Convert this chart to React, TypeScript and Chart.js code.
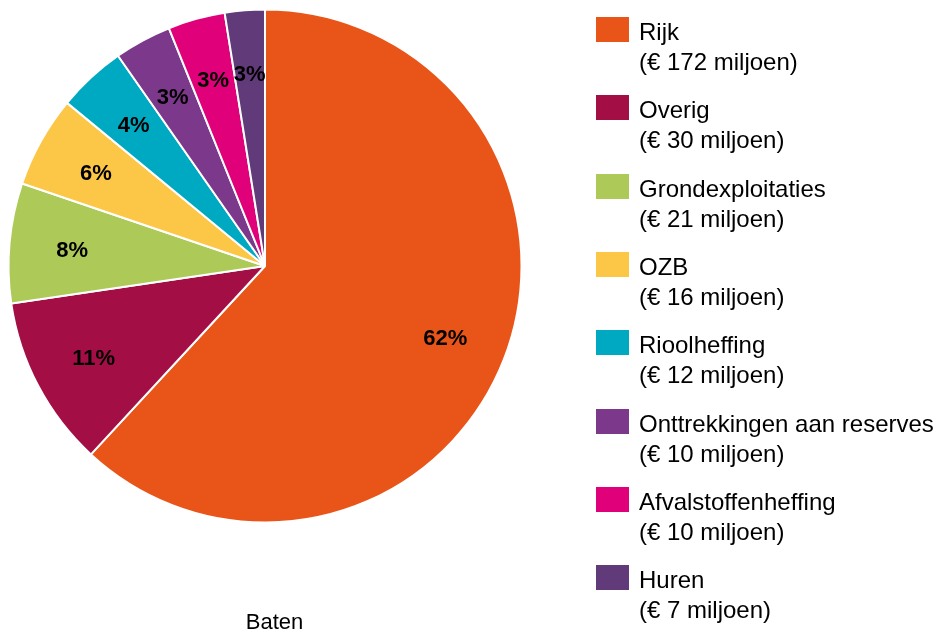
import React, { useEffect, useRef } from "react";
import { Chart, registerables } from "chart.js";

Chart.register(...registerables);

const categories = [
  "Rijk",
  "Overig",
  "Grondexploitaties",
  "OZB",
  "Rioolheffing",
  "Onttrekkingen aan reserves",
  "Afvalstoffenheffing",
  "Huren",
];
const values = [172, 30, 21, 16, 12, 10, 10, 7];
const pctLabels = ["62%", "11%", "8%", "6%", "4%", "3%", "3%", "3%"];
const colors = [
  "#E95519",
  "#A30E45",
  "#ADCA59",
  "#FCC647",
  "#00A9C2",
  "#7C398B",
  "#E0007A",
  "#613B79",
];
const title = "Baten";

const FONT = '"Liberation Sans", Arial, Helvetica, sans-serif';

const labelPlugin = {
  id: "pctLabels",
  afterDatasetsDraw(chart: any) {
    const ctx = chart.ctx;
    const meta = chart.getDatasetMeta(0);
    ctx.save();
    ctx.font = `bold 22px ${FONT}`;
    ctx.fillStyle = "#000";
    ctx.textAlign = "center";
    ctx.textBaseline = "middle";
    meta.data.forEach((arc: any, i: number) => {
      const p = arc.getProps(["x", "y", "startAngle", "endAngle", "outerRadius"], true);
      const mid = (p.startAngle + p.endAngle) / 2;
      const r = p.outerRadius * 0.755;
      const x = p.x + Math.cos(mid) * r;
      const y = p.y + Math.sin(mid) * r + 2;
      ctx.fillText(pctLabels[i], x, y);
    });
    ctx.restore();
  },
};

export default function App() {
  const ref = useRef<HTMLCanvasElement | null>(null);

  useEffect(() => {
    if (!ref.current) return;
    const chart = new Chart(ref.current, {
      type: "pie",
      data: {
        labels: categories,
        datasets: [
          {
            data: values,
            backgroundColor: colors,
            borderColor: "#ffffff",
            borderWidth: 2,
          },
        ],
      },
      options: {
        responsive: false,
        animation: false,
        layout: { padding: { left: 7.5, top: 8.5, right: 415.5, bottom: 113.5 } },
        plugins: {
          legend: { display: false },
          title: { display: false },
          tooltip: { enabled: false },
        },
      },
      plugins: [labelPlugin],
    });
    return () => chart.destroy();
  }, []);

  return (
    <div
      style={{
        position: "absolute",
        left: 0,
        top: 0,
        width: 938,
        height: 637,
        background: "#fff",
        fontFamily: FONT,
        color: "#000",
      }}
    >
      <canvas ref={ref} width={938} height={637} style={{ position: "absolute", left: 0, top: 0 }} />
      {categories.map((c, i) => (
        <div key={c} style={{ position: "absolute", left: 596, top: 17 + 78.3 * i }}>
          <div
            style={{
              position: "absolute",
              left: 0,
              top: 0,
              width: 33,
              height: 25,
              background: colors[i],
            }}
          />
          <div
            style={{
              position: "absolute",
              left: 43,
              top: 0,
              fontSize: 24,
              lineHeight: "30px",
              whiteSpace: "nowrap",
            }}
          >
            <div>{c}</div>
            <div>{`(€ ${values[i]} miljoen)`}</div>
          </div>
        </div>
      ))}
      <div
        style={{
          position: "absolute",
          left: 0,
          top: 610,
          width: 549,
          textAlign: "center",
          fontSize: 22,
          lineHeight: "24px",
        }}
      >
        {title}
      </div>
    </div>
  );
}
